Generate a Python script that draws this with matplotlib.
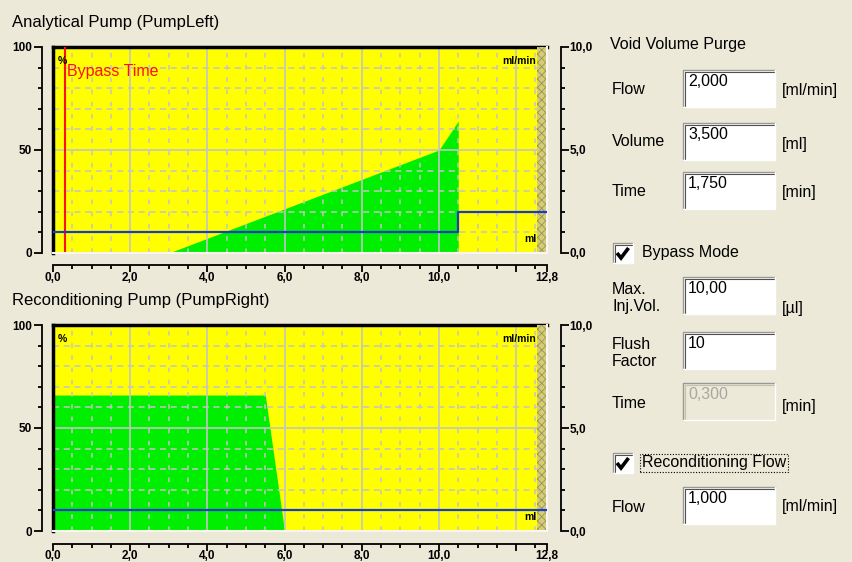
import matplotlib
matplotlib.use('Agg')
import matplotlib.pyplot as plt
import matplotlib.patches as patches
import numpy as np

W, H = 852, 562
BG = '#ece9d8'
YELLOW = '#ffff00'
GREEN = '#00ee00'
BLUE = '#1a3ccc'
GRID = '#c4c4c4'

plt.rcParams['font.family'] = ['Liberation Sans', 'DejaVu Sans']
plt.rcParams['hatch.linewidth'] = 0.6

# pump programs: time [min], gradient [%], flow [ml/min]
left_time = [0.0, 3.0, 10.0, 10.5, 10.5, 12.8]
left_percent = [0, 0, 50, 64, 0, 0]
left_flow_time = [0.0, 10.5, 10.5, 12.8]
left_flow = [1.0, 1.0, 2.0, 2.0]
bypass_time = 0.3

right_time = [0.0, 5.5, 6.0, 12.8]
right_percent = [66, 66, 0, 0]
right_flow_time = [0.0, 12.8]
right_flow = [1.0, 1.0]

time_end = 12.8
x_ticks = [0, 2, 4, 6, 8, 10, 12, 12.8]
x_labels = ['0,0', '2,0', '4,0', '6,0', '8,0', '10,0', '', '12,8']
pct_ticks = [0, 50, 100]
pct_labels = ['0', '50', '100']
flow_ticks = [0, 5, 10]
flow_labels = ['0,0', '5,0', '10,0']

# settings panel
purge_labels = ['Flow', 'Volume', 'Time']
purge_values = ['2,000', '3,500', '1,750']
purge_units = ['[ml/min]', '[ml]', '[min]']
bypass_labels = ['Max.\nInj.Vol.', 'Flush\nFactor', 'Time']
bypass_values = ['10,00', '10', '0,300']
bypass_units = ['[µl]', '', '[min]']
recond_value = '1,000'
recond_unit = '[ml/min]'

fig = plt.figure(figsize=(W / 100, H / 100), dpi=100, facecolor=BG)

TICK_FONT = dict(fontsize=8.5, fontweight='bold')


def pump_chart(top, title, t, pct, ft, flow, bypass=None):
    left, right, bottom = 53, 547, top + 206
    ax = fig.add_axes([left / W, 1 - bottom / H, (right - left) / W, (bottom - top) / H])
    ax.set_facecolor(YELLOW)
    ax.set_xlim(0, time_end)
    ax.set_ylim(0, 100)

    ax.fill_between(t, pct, 0, color=GREEN, lw=0, zorder=1)

    # grid: solid every 2 min / 50 %, dashed in between
    for x in np.arange(0.5, time_end, 0.5):
        if x % 2 == 0:
            ax.axvline(x, color=GRID, lw=1.2, zorder=2)
        else:
            ax.axvline(x, color=GRID, lw=1.1, ls=(0, (3, 5)), zorder=2)
    for y in range(10, 100, 10):
        if y == 50:
            ax.axhline(y, color=GRID, lw=1.2, zorder=2)
        else:
            ax.axhline(y, color=GRID, lw=1.1, ls=(0, (4, 3)), zorder=2)

    ax.axvspan(12.55, time_end, facecolor='#d4cc78', edgecolor='#9a9250',
               hatch='xxxx', lw=0, zorder=3)

    # sunken frame
    ax.plot([0, 0], [0, 100], color='black', lw=2.5, zorder=5, clip_on=False)
    ax.plot([0, time_end], [0, 0], color='#f8f6ee', lw=1.5, zorder=5, clip_on=False)
    ax.plot([time_end, time_end], [0, 100], color='#f8f6ee', lw=1.5, zorder=5, clip_on=False)

    ax.spines['top'].set_linewidth(2.5)
    ax.spines['right'].set_visible(False)
    ax.spines['left'].set_position(('outward', 8))
    ax.spines['bottom'].set_position(('outward', 9))
    for s in ('left', 'bottom'):
        ax.spines[s].set_linewidth(1.3)

    ax.set_xticks(x_ticks, x_labels, **TICK_FONT)
    ax.set_xticks(np.arange(0, time_end, 0.5), minor=True)
    ax.set_yticks(pct_ticks, pct_labels, **TICK_FONT)
    ax.set_yticks(range(0, 101, 10), minor=True)
    ax.tick_params(which='major', length=6, width=1.3, pad=1)
    ax.tick_params(axis='x', which='major', length=5, pad=0)
    ax.tick_params(which='minor', length=3, width=1.3)

    ax2 = ax.twinx()
    ax2.set_ylim(0, 10)
    for s in ('top', 'left', 'bottom'):
        ax2.spines[s].set_visible(False)
    ax2.spines['right'].set_position(('outward', 10))
    ax2.spines['right'].set_linewidth(1.3)
    ax2.set_yticks(flow_ticks, flow_labels, **TICK_FONT)
    ax2.set_yticks(range(0, 11), minor=True)
    ax2.tick_params(which='major', length=6, width=1.3, pad=0)
    ax2.tick_params(which='minor', length=3, width=1.3)
    ax2.plot(ft, flow, color=BLUE, lw=1.6, zorder=4)

    ax.text(0.12, 93, '%', fontsize=7.5, fontweight='bold', va='center', zorder=6)
    ax.text(12.52, 93, 'ml/min', fontsize=7.5, fontweight='bold', ha='right', va='center', zorder=6)
    ax.text(12.52, 7, 'ml', fontsize=7.5, fontweight='bold', ha='right', va='center', zorder=6)

    if bypass is not None:
        ax.axvline(bypass, color='#ff1010', lw=1.5, zorder=4)
        ax.text(bypass + 0.05, 88, 'Bypass Time', color='#ff1010', fontsize=11.5,
                va='center', zorder=6)

    fig.text(12 / W, 1 - (top - 24) / H, title, fontsize=12, va='center')
    return ax


pump_chart(47, 'Analytical Pump (PumpLeft)', left_time, left_percent,
           left_flow_time, left_flow, bypass=bypass_time)
pump_chart(325, 'Reconditioning Pump (PumpRight)', right_time, right_percent,
           right_flow_time, right_flow)

# settings panel drawn in pixel coordinates
pan = fig.add_axes([0, 0, 1, 1])
pan.set_xlim(0, W)
pan.set_ylim(H, 0)
pan.axis('off')

FORM = dict(fontsize=11.5, color='black')


def edit_box(x, y, value, enabled=True, w=92, h=37):
    pan.add_patch(patches.Rectangle((x, y), w, h, facecolor='white' if enabled else BG,
                                    edgecolor='none'))
    pan.plot([x, x, x + w], [y + h, y, y], color='#9a9890', lw=1)
    pan.plot([x + 1.5, x + 1.5, x + w - 1.5], [y + h - 1.5, y + 1.5, y + 1.5],
             color='#505050' if enabled else '#c4c0b4', lw=0.8)
    pan.plot([x, x + w, x + w], [y + h, y + h, y], color='white', lw=1)
    pan.text(x + 5, y + 16, value, va='baseline', fontsize=11.5,
             color='black' if enabled else '#a8a8a0')


def check_box(x, y, label, focus=False):
    pan.add_patch(patches.Rectangle((x, y), 20, 20, facecolor='white', edgecolor='none'))
    pan.plot([x, x, x + 20], [y + 20, y, y], color='#9a9890', lw=1)
    pan.plot([x + 1.5, x + 1.5, x + 18.5], [y + 18.5, y + 1.5, y + 1.5], color='#505050', lw=0.8)
    pan.plot([x, x + 20, x + 20], [y + 20, y + 20, y], color='white', lw=1)
    pan.plot([x + 4, x + 8, x + 15.5], [y + 10, y + 15, y + 5], color='black', lw=2.6,
             solid_capstyle='butt', solid_joinstyle='miter')
    box = dict(boxstyle='square,pad=0.12', facecolor='none', edgecolor='black',
               ls=(0, (1, 1.5)), lw=0.8) if focus else None
    pan.text(x + 29, y + 10, label, va='center', bbox=box, **FORM)


pan.text(610, 45, 'Void Volume Purge', va='center', **FORM)
for lab, val, unit, ytop in zip(purge_labels, purge_values, purge_units, [70, 123, 172]):
    pan.text(612, ytop + 19, lab, va='center', **FORM)
    edit_box(683, ytop, val)
    pan.text(782, ytop + 21, unit, va='center', **FORM)

check_box(613, 243, 'Bypass Mode')
for lab, val, unit, ytop in zip(bypass_labels, bypass_values, bypass_units, [277, 332, 383]):
    pan.text(612, ytop + 21, lab, va='center', linespacing=1.1, **FORM)
    edit_box(683, ytop, val, enabled=(lab != 'Time'))
    pan.text(782, ytop + 32 if unit == '[µl]' else ytop + 23, unit, va='center', **FORM)

check_box(613, 453, 'Reconditioning Flow', focus=True)
pan.text(612, 508, 'Flow', va='center', **FORM)
edit_box(683, 487, recond_value)
pan.text(782, 507, recond_unit, va='center', **FORM)

fig.savefig('out.png', dpi=100, facecolor=BG)
